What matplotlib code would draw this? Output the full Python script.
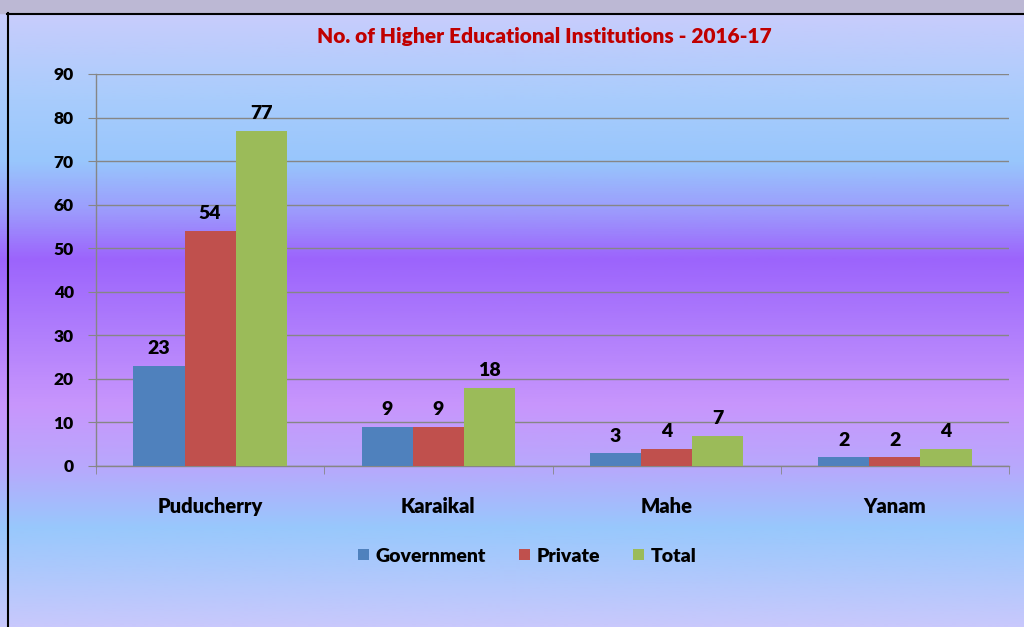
import numpy as np
import matplotlib
matplotlib.use("Agg")
import matplotlib.pyplot as plt
from matplotlib.colors import LinearSegmentedColormap
from matplotlib.patches import Patch

categories = ["Puducherry", "Karaikal", "Mahe", "Yanam"]
government = [23, 9, 3, 2]
private = [54, 9, 4, 2]
total = [77, 18, 7, 4]
series_names = ["Government", "Private", "Total"]
series_colors = ["#4f81bd", "#c0504d", "#9bbb59"]
yticks = [0, 10, 20, 30, 40, 50, 60, 70, 80, 90]
title = "No. of Higher Educational Institutions - 2016-17"

plt.rcParams['font.family'] = ['Lato', 'DejaVu Sans']
WT = 'heavy'
plt.rcParams['font.weight'] = WT

W, H = 1024, 627
fig = plt.figure(figsize=(W / 100, H / 100), dpi=100)

# background gradient
bg = fig.add_axes([0, 0, 1, 1], zorder=-10)
stops = [(0.0, "#c8ccfc"), (0.14, "#a8ccfc"), (0.24, "#98c6fc"),
         (0.32, "#9c9cfc"), (0.40, "#9c64fc"), (0.52, "#b07efc"),
         (0.64, "#c896fc"), (0.74, "#b8a8fc"), (0.84, "#98c8fc"),
         (1.0, "#c8c8fc")]
cmap = LinearSegmentedColormap.from_list("bg", stops)
grad = np.linspace(0, 1, 600).reshape(-1, 1)
bg.imshow(grad, aspect='auto', cmap=cmap, extent=[0, W, H, 13])
bg.fill_between([0, W], [0, 0], [13, 13], color="#bcb8d4")
bg.plot([7, W], [13.5, 13.5], color="black", lw=1.5)
bg.plot([7.5, 7.5], [13, H], color="black", lw=1.5)
bg.set_xlim(0, W)
bg.set_ylim(H, 0)
bg.axis('off')

ax = fig.add_axes([96 / W, 1 - 466 / H, (1009 - 96) / W, (466 - 74) / H])
ax.set_facecolor('none')

x = np.arange(len(categories))
bw = 0.224
for i, (vals, name, col) in enumerate(zip([government, private, total], series_names, series_colors)):
    xs = x + (i - 1) * bw
    ax.bar(xs, vals, width=bw, color=col, zorder=3)
    for xi, v in zip(xs, vals):
        ax.annotate(str(v), (xi, v), xytext=(0, 6), textcoords='offset points',
                    ha='center', va='bottom', fontsize=14, fontweight=WT, color='black')

ax.set_xlim(-0.5, len(categories) - 0.5)
ax.set_ylim(0, 90)
ax.set_yticks(yticks)
ax.set_yticklabels([str(t) for t in yticks], fontsize=12.5, fontweight=WT)
ax.yaxis.grid(True, color="#868686", lw=1, zorder=0)
ax.set_xticks(x)
ax.set_xticklabels(categories, fontsize=14.5, fontweight=WT)
ax.set_xticks(np.arange(-0.5, len(categories)), minor=True)
ax.tick_params(axis='x', which='major', length=0, pad=22)
ax.tick_params(axis='x', which='minor', length=6, color="#868686")
ax.tick_params(axis='y', length=6, color="#868686", pad=10)
for s in ['top', 'right']:
    ax.spines[s].set_visible(False)
for s in ['left', 'bottom']:
    ax.spines[s].set_color("#868686")
    ax.spines[s].set_linewidth(1)

fig.text(544 / W, 1 - 36 / H, title, ha='center', va='center', fontsize=15,
         fontweight=WT, color="#c00000")

handles = [Patch(facecolor=c, edgecolor='none') for c in series_colors]
fig.legend(handles, series_names, loc='center', bbox_to_anchor=(527 / W, 1 - 556 / H),
           ncol=3, frameon=False, handlelength=0.55, handleheight=0.55,
           handletextpad=0.35, columnspacing=1.7, prop={'weight': WT, 'size': 14})

fig.savefig("out.png", dpi=100)
